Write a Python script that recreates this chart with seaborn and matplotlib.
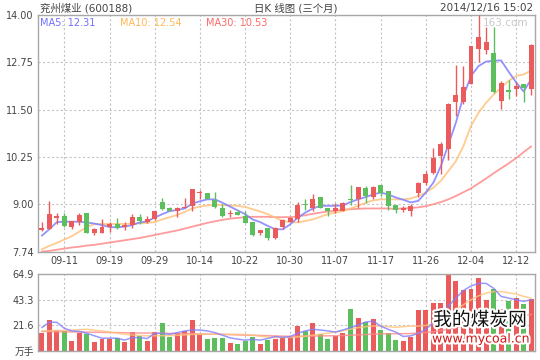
import numpy as np
import pandas as pd
import seaborn as sns
import matplotlib.pyplot as plt
from matplotlib import patheffects

# daily candles, 2014-09-05 .. 2014-12-16 (66 sessions)
opens = [8.31, 8.36, 8.63, 8.68, 8.40, 8.53, 8.76, 8.24, 8.24, 8.40,
         8.47, 8.39, 8.45, 8.67, 8.52, 8.60, 9.05, 8.89, 8.83, 8.90,
         8.96, 9.29, 9.29, 9.12, 8.89, 8.74, 8.80, 8.70, 8.52, 8.24,
         8.37, 8.11, 8.41, 8.53, 8.60, 9.01, 8.89, 9.18, 8.91, 8.81,
         8.82, 9.15, 9.13, 9.42, 9.18, 9.50, 9.34, 8.97, 8.84, 8.83,
         9.31, 9.57, 9.82, 10.28, 10.47, 11.70, 11.70, 12.17, 13.09, 13.07,
         13.00, 11.73, 12.02, 12.04, 12.19, 12.05]
highs = [8.52, 9.08, 8.76, 8.76, 8.56, 8.78, 8.76, 8.38, 8.60, 8.52,
         8.63, 8.54, 8.74, 8.74, 8.69, 8.83, 9.16, 8.93, 8.93, 9.16,
         9.40, 9.38, 9.29, 9.32, 9.01, 8.86, 8.85, 8.82, 8.52, 8.33,
         8.37, 8.41, 8.60, 8.67, 9.06, 9.15, 9.26, 9.19, 8.91, 9.04,
         9.06, 9.50, 9.46, 9.48, 9.48, 9.50, 9.34, 8.97, 8.95, 9.00,
         9.60, 9.88, 10.50, 10.65, 11.68, 12.67, 12.64, 13.18, 13.99, 13.68,
         13.68, 12.26, 12.28, 12.24, 12.19, 13.24]
lows = [8.30, 8.34, 8.49, 8.41, 8.34, 8.45, 8.23, 8.19, 8.24, 8.28,
        8.35, 8.32, 8.37, 8.49, 8.50, 8.58, 8.85, 8.81, 8.67, 8.89,
        8.82, 9.15, 9.13, 8.90, 8.67, 8.67, 8.72, 8.50, 8.16, 8.20,
        8.07, 8.09, 8.34, 8.52, 8.53, 8.85, 8.82, 8.90, 8.69, 8.76,
        8.81, 8.98, 8.91, 9.04, 9.15, 9.22, 8.85, 8.76, 8.79, 8.70,
        9.18, 9.50, 9.79, 9.79, 10.16, 11.33, 11.64, 12.17, 12.76, 12.96,
        11.95, 11.53, 11.79, 11.86, 11.71, 11.90]
closes = [8.38, 8.74, 8.68, 8.43, 8.56, 8.71, 8.24, 8.34, 8.41, 8.47,
          8.38, 8.45, 8.67, 8.55, 8.62, 8.83, 8.87, 8.82, 8.89, 8.92,
          9.40, 9.32, 9.13, 8.93, 8.69, 8.77, 8.72, 8.51, 8.19, 8.31,
          8.11, 8.38, 8.58, 8.65, 8.97, 8.99, 9.13, 8.91, 8.82, 8.89,
          9.04, 9.11, 9.45, 9.22, 9.45, 9.29, 8.96, 8.84, 8.90, 8.95,
          9.57, 9.81, 10.23, 10.60, 11.64, 11.90, 12.11, 13.18, 13.42, 13.30,
          11.97, 12.21, 11.97, 12.13, 12.06, 13.22]

ma5 = [8.17, 8.34, 8.53, 8.54, 8.54, 8.54, 8.52, 8.49, 8.45, 8.40,
       8.39, 8.41, 8.45, 8.52, 8.55, 8.65, 8.74, 8.82, 8.85, 8.89,
       9.02, 9.08, 9.13, 9.13, 9.04, 8.94, 8.84, 8.74, 8.60, 8.53,
       8.43, 8.34, 8.34, 8.47, 8.65, 8.78, 8.89, 8.96, 8.96, 8.96,
       8.97, 9.06, 9.13, 9.19, 9.26, 9.31, 9.26, 9.18, 9.12, 9.05,
       9.09, 9.31, 9.57, 10.01, 10.58, 11.16, 11.86, 12.39, 12.65, 12.77,
       12.79, 12.80, 12.50, 12.22, 11.98, 12.31]
ma10 = [7.81, 7.90, 7.98, 8.07, 8.16, 8.28, 8.40, 8.48, 8.48, 8.48,
        8.48, 8.48, 8.49, 8.50, 8.51, 8.53, 8.60, 8.66, 8.72, 8.80,
        8.89, 8.94, 8.97, 8.99, 8.98, 8.97, 8.96, 8.93, 8.87, 8.81,
        8.74, 8.65, 8.56, 8.53, 8.52, 8.56, 8.60, 8.67, 8.74, 8.78,
        8.82, 8.89, 8.96, 9.04, 9.10, 9.13, 9.13, 9.13, 9.13, 9.15,
        9.22, 9.31, 9.44, 9.62, 9.88, 10.14, 10.54, 11.07, 11.42, 11.68,
        11.90, 12.08, 12.26, 12.39, 12.43, 12.54]
ma30 = [7.75, 7.77, 7.80, 7.83, 7.86, 7.88, 7.91, 7.93, 7.96, 7.99,
        8.02, 8.05, 8.08, 8.11, 8.15, 8.19, 8.23, 8.27, 8.31, 8.36,
        8.41, 8.46, 8.51, 8.55, 8.59, 8.62, 8.64, 8.66, 8.67, 8.67,
        8.67, 8.66, 8.66, 8.66, 8.68, 8.71, 8.75, 8.78, 8.81, 8.83,
        8.86, 8.87, 8.88, 8.89, 8.89, 8.89, 8.89, 8.88, 8.89, 8.90,
        8.92, 8.95, 9.00, 9.06, 9.13, 9.22, 9.32, 9.42, 9.55, 9.68,
        9.82, 9.95, 10.08, 10.22, 10.38, 10.53]

# volume in 万手
volumes = [15.2, 26.0, 17.7, 16.9, 8.6, 15.2, 14.1, 7.8, 10.5, 10.5,
           11.1, 7.8, 16.0, 12.5, 8.6, 16.0, 23.5, 12.2, 15.2, 17.2,
           26.0, 14.1, 10.5, 11.1, 11.1, 6.9, 5.8, 8.3, 11.9, 5.8,
           9.4, 10.5, 11.0, 11.6, 20.8, 16.8, 23.4, 14.2, 10.1, 12.5,
           14.8, 35.0, 27.4, 24.4, 27.0, 17.5, 15.5, 9.0, 8.5, 12.0,
           34.3, 34.6, 40.8, 40.8, 64.3, 59.3, 51.3, 52.3, 61.5, 42.7,
           52.3, 35.0, 42.0, 45.0, 40.0, 44.0]
vol_ma5 = [19.7, 24.2, 24.2, 19.1, 16.9, 16.5, 14.9, 12.8, 10.8, 10.8,
           10.8, 9.2, 11.3, 11.3, 10.5, 14.9, 14.9, 14.1, 15.5, 16.9,
           17.7, 17.7, 16.9, 15.5, 13.3, 11.1, 10.0, 9.2, 9.8, 9.2,
           10.5, 12.2, 11.5, 12.2, 15.0, 16.9, 18.3, 17.7, 16.9, 16.0,
           17.7, 19.7, 21.9, 24.4, 25.2, 21.0, 18.3, 16.0, 12.2, 12.8,
           15.0, 18.3, 23.8, 29.4, 37.7, 44.6, 51.0, 54.8, 57.0, 57.0,
           52.9, 46.0, 44.6, 43.2, 41.8, 43.2]
vol_ma10 = [17.0, 17.0, 17.2, 17.4, 17.6, 18.0, 18.3, 17.5, 16.9, 16.0,
            15.0, 14.1, 13.5, 13.0, 12.8, 12.8, 12.9, 13.0, 13.2, 13.6,
            14.0, 14.1, 14.1, 14.1, 14.1, 14.0, 14.0, 13.8, 13.3, 12.5,
            11.8, 11.4, 11.4, 11.5, 11.8, 12.5, 13.3, 14.2, 15.0, 16.0,
            17.0, 18.5, 19.7, 20.5, 21.0, 21.0, 20.5, 20.0, 20.5, 21.0,
            21.0, 21.5, 23.0, 23.8, 28.0, 35.0, 39.0, 43.2, 46.5, 48.8,
            50.1, 50.1, 49.0, 48.0, 46.0, 44.6]
vol_ma30 = [16.5, 16.4, 16.3, 16.2, 16.1, 16.0, 15.9, 15.8, 15.7, 15.6,
            15.5, 15.4, 15.3, 15.2, 15.1, 15.0, 14.9, 14.8, 14.7, 14.6,
            14.5, 14.4, 14.3, 14.2, 14.0, 13.8, 13.6, 13.4, 13.3, 13.1,
            12.9, 12.7, 12.5, 12.4, 12.4, 12.5, 12.6, 12.7, 12.8, 12.9,
            13.0, 13.3, 13.6, 13.9, 14.2, 14.4, 14.5, 14.6, 14.6, 14.7,
            15.1, 15.6, 16.3, 17.1, 18.4, 19.9, 21.2, 22.6, 24.2, 25.2,
            26.5, 27.4, 28.3, 29.2, 30.0, 30.8]

date_labels = ["09-11", "09-19", "09-29", "10-14", "10-22", "10-30",
               "11-07", "11-17", "11-26", "12-04", "12-12"]
price_ticks = [7.74, 9.00, 10.25, 11.50, 12.75, 14.00]
vol_ticks = [0, 21.6, 43.3, 64.9]

RED = "#ec5b5b"
GREEN = "#5dbe5d"
C_MA5 = "#7f7fff"
C_MA10 = "#ffc27a"
C_MA30 = "#ff8a8a"

sns.set_style("white")
plt.rcParams["font.family"] = ["DejaVu Sans", "Noto Sans CJK SC"]

W, H = 540, 360
fig = plt.figure(figsize=(W / 100, H / 100), dpi=100)
ax = fig.add_axes([38 / W, 1 - 252 / H, 497 / W, 237 / H])
axv = fig.add_axes([38 / W, 1 - 351 / H, 497 / W, 77 / H], sharex=ax)

o = np.array(opens)
c = np.array(closes)
x = np.arange(len(c))
up = c >= o
colors = np.where(up, RED, GREEN)

# moving averages under the candles
for vals, col in [(ma30, C_MA30), (ma10, C_MA10), (ma5, C_MA5)]:
    sns.lineplot(x=x, y=vals, ax=ax, color=col, linewidth=1.3, alpha=0.85, zorder=2)

ax.vlines(x, lows, highs, colors=colors, linewidth=1, zorder=3)
ax.bar(x, np.maximum(np.abs(c - o), 0.018), bottom=np.minimum(o, c), width=0.66,
       color=colors, linewidth=0, zorder=4)

# volume panel
vdf = pd.DataFrame({"i": x, "vol": volumes, "dir": np.where(up, "up", "down")})
sns.barplot(data=vdf, x="i", y="vol", hue="dir", palette={"up": RED, "down": GREEN},
            dodge=False, native_scale=True, width=0.66, saturation=1, linewidth=0,
            legend=False, ax=axv, zorder=2)
for vals, col in [(vol_ma30, C_MA30), (vol_ma10, C_MA10), (vol_ma5, C_MA5)]:
    sns.lineplot(x=x, y=vals, ax=axv, color=col, linewidth=1.1, alpha=0.8, zorder=3)

xt = np.arange(3, len(c), 6)
for a in (ax, axv):
    a.set_xlim(-0.5, len(c) - 0.5)
    a.set_xticks(xt)
    a.grid(True, color="#c4c4c4", linestyle=(0, (2, 2)), linewidth=0.8)
    a.set_axisbelow(True)
    a.set_xlabel("")
    a.set_ylabel("")
    for s in a.spines.values():
        s.set_color("#a8a8a8")
        s.set_linewidth(1)
    a.tick_params(length=0, labelsize=7, colors="#444444", pad=3)

ax.set_xticklabels(date_labels)
axv.tick_params(labelbottom=False)
ax.set_ylim(price_ticks[0], price_ticks[-1])
ax.set_yticks(price_ticks)
ax.set_yticklabels([f"{v:.2f}" for v in price_ticks])
axv.set_ylim(vol_ticks[0], vol_ticks[-1])
axv.set_yticks(vol_ticks)
axv.set_yticklabels(["万手"] + [f"{v:.1f}" for v in vol_ticks[1:]])

# header
fig.text(40 / W, 1 - 8 / H, "兖州煤业 (600188)", fontsize=7.5, color="#444444", va="center")
fig.text(296 / W, 1 - 8 / H, "日K 线图 (三个月)", fontsize=7.5, color="#444444",
         va="center", ha="center")
fig.text(533 / W, 1 - 8 / H, "2014/12/16 15:02", fontsize=7.5, color="#444444",
         va="center", ha="right")

fig.text(40 / W, 1 - 23 / H, f"MA5: {ma5[-1]:.2f}", fontsize=7, color="#7070ff", va="center")
fig.text(120 / W, 1 - 23 / H, f"MA10: {ma10[-1]:.2f}", fontsize=7, color="#ffb658", va="center")
fig.text(206 / W, 1 - 23 / H, f"MA30: {ma30[-1]:.2f}", fontsize=7, color="#ff6666", va="center")
fig.text(528 / W, 1 - 23 / H, "163.com", fontsize=7.5, color="#c8c8c8", va="center", ha="right")

# watermark of the source site
stroke = [patheffects.withStroke(linewidth=3, foreground="white")]
fig.text(480 / W, 1 - 320 / H, "我的煤炭网", fontsize=13.5, color="#111111",
         ha="center", va="center", path_effects=stroke)
fig.text(481 / W, 1 - 339 / H, "www.mycoal.cn", fontsize=9, color="#d01515",
         ha="center", va="center", path_effects=stroke)

fig.savefig("out.png", dpi=100)
